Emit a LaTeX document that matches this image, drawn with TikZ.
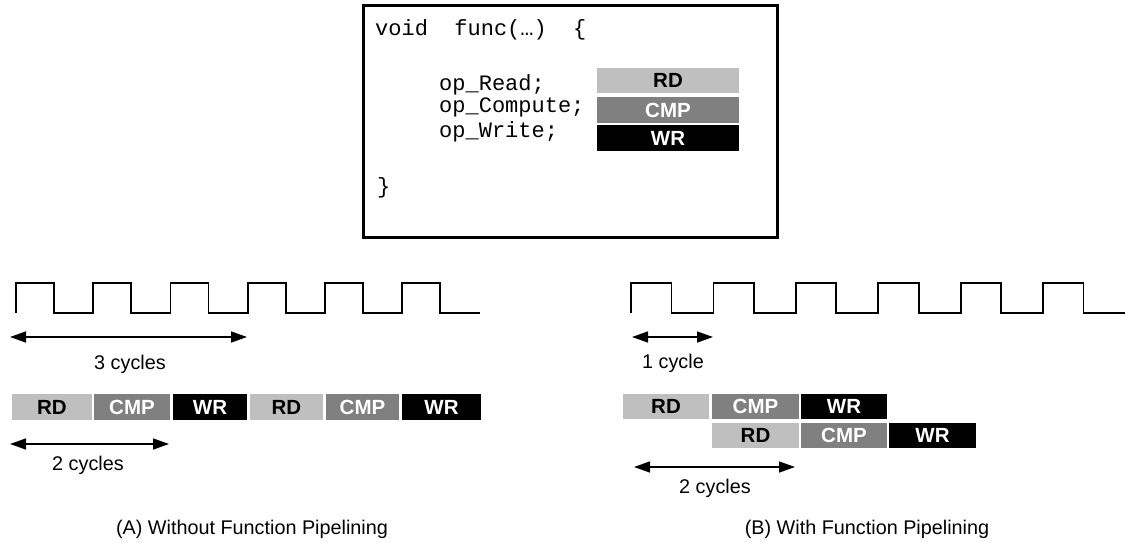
\documentclass[tikz,border=0pt]{standalone}
\usepackage{fontspec}
\setmainfont{Liberation Sans}
\setmonofont{Liberation Mono}
\usetikzlibrary{arrows.meta}
\definecolor{rdgray}{HTML}{BFBFBF}
\definecolor{cmpgray}{HTML}{808080}
\tikzset{
  bar/.style={inner sep=0pt, minimum height=26pt, font=\fontsize{20.5}{23}\selectfont\bfseries},
  rdbar/.style={bar, fill=rdgray, text=black},
  cmpbar/.style={bar, fill=cmpgray, text=white},
  wrbar/.style={bar, fill=black, text=white},
  code/.style={inner sep=0pt, anchor=base west, font=\fontsize{22}{25}\selectfont\ttfamily},
  lbl/.style={inner sep=0pt, font=\fontsize{19.8}{23}\selectfont},
  clk/.style={line width=1.8pt, line join=miter},
  span/.style={line width=1.4pt, {Triangle[length=16pt,width=11pt]}-{Triangle[length=16pt,width=11pt]}},
}
\begin{document}
\begin{tikzpicture}[x=1pt,y=-1pt]
\useasboundingbox (0,0) rectangle (1125,543);
% code box
\node[draw, line width=2.8pt, inner sep=0pt, minimum width=414pt, minimum height=232pt, anchor=north west] (codebox) at (362,4) {};
\node[code] (l1) at (375,36) {void\ \ func(…)\ \ \{};
\node[code] (l2) at (439,90) {op\_Read;};
\node[code] (l3) at (439,113) {op\_Compute;};
\node[code] (l4) at (439,137) {op\_Write;};
\node[code] (l5) at (377,193) {\}};
\node[rdbar, minimum width=142pt, minimum height=25pt] (crd) at (668,80.5) {RD};
\node[cmpbar, minimum width=142pt, minimum height=26pt] (ccmp) at (668,110) {CMP};
\node[wrbar, minimum width=142pt, minimum height=26pt] (cwr) at (668,138) {WR};
% left clock
\draw[clk] (16,313) \foreach \k in {0,...,5}{ -- ({16+77.2*\k},313) -- ({16+77.2*\k},283) -- ({54+77.2*\k},283) -- ({54+77.2*\k},313) } -- (480,313);
% right clock
\draw[clk] (631,313) \foreach \k in {0,...,5}{ -- ({631+82.4*\k},313) -- ({631+82.4*\k},283) -- ({671.5+82.4*\k},283) -- ({671.5+82.4*\k},313) } -- (1125,313);
% left arrows
\coordinate (a3l) at (10,337);
\coordinate (a3r) at (247,337);
\draw[span] (a3l) -- (a3r);
\node[lbl] (t3) at (130,364) {3 cycles};
\node[rdbar, minimum width=80pt] (lrd1) at (52,407) {RD};
\node[cmpbar, minimum width=76pt] (lcmp1) at (132,407) {CMP};
\node[wrbar, minimum width=74pt] (lwr1) at (210,407) {WR};
\node[rdbar, minimum width=73pt] (lrd2) at (286.5,407) {RD};
\node[cmpbar, minimum width=73pt] (lcmp2) at (362.5,407) {CMP};
\node[wrbar, minimum width=79pt] (lwr2) at (441.5,407) {WR};
\coordinate (a2l) at (10,444);
\coordinate (a2r) at (169,444);
\draw[span] (a2l) -- (a2r);
\node[lbl] (t2) at (88,465) {2 cycles};
\node[lbl] (capA) at (252,529) {(A) Without Function Pipelining};
% right arrows
\coordinate (b1l) at (632,337);
\coordinate (b1r) at (713,337);
\draw[span] (b1l) -- (b1r);
\node[lbl] (t1) at (673,363) {1 cycle};
\node[rdbar, minimum width=86pt, minimum height=25pt] (rrd1) at (666,406.5) {RD};
\node[cmpbar, minimum width=87pt, minimum height=25pt] (rcmp1) at (755.5,406.5) {CMP};
\node[wrbar, minimum width=86pt, minimum height=25pt] (rwr1) at (844,406.5) {WR};
\node[rdbar, minimum width=87pt, minimum height=25pt] (rrd2) at (755.5,435.5) {RD};
\node[cmpbar, minimum width=86pt, minimum height=25pt] (rcmp2) at (844,435.5) {CMP};
\node[wrbar, minimum width=87pt, minimum height=25pt] (rwr2) at (932.5,435.5) {WR};
\coordinate (b2l) at (634,467);
\coordinate (b2r) at (795,467);
\draw[span] (b2l) -- (b2r);
\node[lbl] (tb2) at (715,488) {2 cycles};
\node[lbl] (capB) at (867,529) {(B) With Function Pipelining};
\end{tikzpicture}
\end{document}
